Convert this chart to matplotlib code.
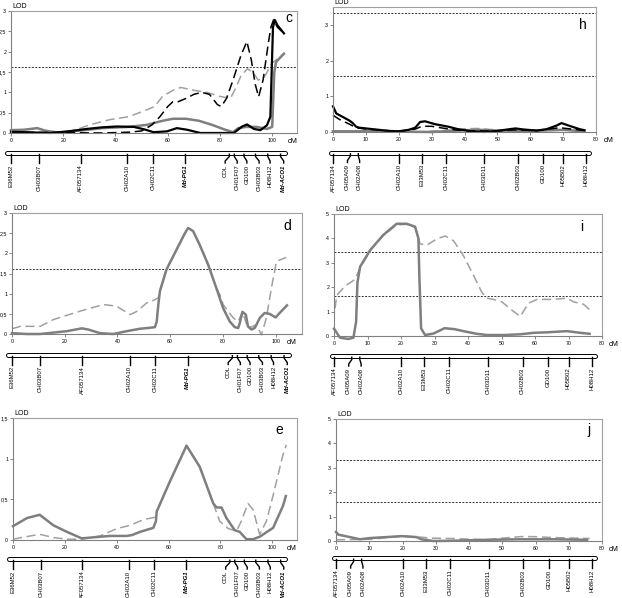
import matplotlib.pyplot as plt

plt.rcParams['font.family'] = ['Liberation Sans', 'DejaVu Sans']

W, H = 622, 598

# ---- linkage maps (cM position on bar, position of the label) ----
map1_names = ["E36M52", "CH03B07", "AF057134", "CH02A10", "CH02C11", "Md-PG1",
              "COL", "CH01F07", "GD100", "CH03B03", "H08H12", "Md-ACO1"]
map1_pos = [0, 10.8, 26.7, 44.6, 54.3, 66.7, 83.6, 85.5, 89.2, 93.6, 98.3, 103.2]
map1_lab = [0, 10.8, 26.7, 44.6, 54.3, 66.7, 82.0, 86.6, 90.3, 95.0, 99.2, 104.4]
map1_bold = ["Md-PG1", "Md-ACO1"]

map2_names = ["AF057134", "CH05A09", "CH02A08", "CH02A10", "E33M53", "CH02C11",
              "CH03D11", "CH02B03", "GD100", "H05B02", "H08H12"]
map2_pos = [0, 5.3, 7.7, 20.1, 27, 34.3, 45.9, 56.3, 64, 70, 77]
map2_lab = [0, 4.4, 8.1, 20.1, 27, 34.3, 45.9, 56.3, 64, 70, 77]

# ---- panel c ----
c_bs_x = [0, 5, 10, 15, 22, 29, 35, 40.5, 47, 51, 54.6, 59.7, 63.5, 67.4, 72.5, 80, 85.3,
          88.5, 90.4, 93, 95.5, 98, 99.3, 99.8, 100.3, 101, 102, 104.5]
c_bs_y = [0.03, 0.02, 0.01, 0.0, 0.04, 0.1, 0.14, 0.16, 0.15, 0.09, 0.02, 0.04, 0.12, 0.08,
          0.0, 0.0, 0.0, 0.16, 0.21, 0.1, 0.07, 0.19, 0.4, 1.5, 2.6, 2.78, 2.65, 2.45]
c_bd_x = [0, 20, 35, 45, 50, 54, 57, 60, 62, 64, 67, 70, 73, 76, 79, 80.5, 82.5, 85, 88,
          90.3, 92, 93.5, 94.8, 96.5, 98.5, 99.5, 100.5, 102, 104.5]
c_bd_y = [0.02, 0.01, 0.0, 0.02, 0.05, 0.2, 0.4, 0.65, 0.77, 0.77, 0.85, 0.95, 1.0, 0.95,
          0.7, 0.65, 0.85, 1.3, 1.9, 2.25, 1.8, 1.2, 0.89, 1.3, 2.2, 2.6, 2.78, 2.6, 2.45]
c_gs_x = [0, 5, 10, 13, 18, 25, 35, 45, 52, 58, 62, 67, 72, 77, 82, 85, 87, 90, 94, 98,
          100, 100.8, 101.5, 104.5]
c_gs_y = [0.07, 0.08, 0.12, 0.06, 0.01, 0.05, 0.12, 0.15, 0.2, 0.3, 0.35, 0.35, 0.3, 0.2,
          0.08, 0.02, 0.12, 0.15, 0.15, 0.1, 0.15, 1.5, 1.75, 1.95]
c_gd_x = [0, 10, 18, 25, 30, 38, 45, 50, 55, 58, 62, 65, 70, 75, 80, 84, 86, 88, 90.5,
          92.5, 94.7, 97, 100, 104.5]
c_gd_y = [0.03, 0.0, 0.0, 0.08, 0.2, 0.33, 0.4, 0.52, 0.65, 0.9, 1.05, 1.12, 1.05, 1.0,
          0.9, 0.85, 1.1, 1.4, 1.58, 1.5, 1.3, 1.38, 1.72, 1.95]

# ---- panel h ----
h_bs_x = [0, 1, 3, 5, 6, 7, 8, 12, 17, 20, 23, 25, 26.5, 28, 31, 35, 38, 42, 46, 50, 53,
          55.5, 58, 62, 65, 68, 69.5, 72, 75, 76.5]
h_bs_y = [0.72, 0.52, 0.42, 0.32, 0.25, 0.15, 0.12, 0.08, 0.03, 0.02, 0.06, 0.12, 0.28,
          0.3, 0.22, 0.15, 0.08, 0.02, 0.0, 0.03, 0.07, 0.1, 0.07, 0.04, 0.08, 0.18, 0.25,
          0.17, 0.08, 0.05]
h_bd_x = [0, 2, 5, 7, 10, 20, 25, 27, 30, 34, 38, 42, 50, 55, 62, 69, 76.5]
h_bd_y = [0.47, 0.35, 0.22, 0.12, 0.08, 0.02, 0.08, 0.16, 0.16, 0.1, 0.05, 0.03, 0.03,
          0.06, 0.04, 0.12, 0.04]
h_gs_x = [0, 10, 20, 30, 40, 45, 50, 60, 70, 76.5]
h_gs_y = [0.02, 0.02, 0.01, 0.0, 0.05, 0.06, 0.04, 0.03, 0.06, 0.02]
h_gd_x = [0, 10, 25, 35, 40, 44, 48, 55, 62, 70, 76.5]
h_gd_y = [0.0, 0.0, 0.0, 0.05, 0.09, 0.1, 0.07, 0.04, 0.05, 0.06, 0.03]

# ---- panel d ----
d_gs_x = [0, 5.7, 10.7, 20.8, 26.5, 29, 33.4, 38.5, 43.5, 48.5, 51.7, 54.2, 54.9, 55.5,
          56.1, 58.6, 62.4, 65.6, 66.8, 68.7, 71.2, 74.4, 77.5, 80.1, 82.6, 84.5, 85.8,
          86.4, 87.4, 88.7, 89.5, 90.8, 92.1, 94, 95.8, 97.7, 100, 101.5, 104.3]
d_gs_y = [0.02, 0.0, 0.0, 0.07, 0.14, 0.11, 0.02, 0.0, 0.07, 0.13, 0.15, 0.17, 0.31, 0.73,
          1.06, 1.6, 2.09, 2.5, 2.63, 2.55, 2.21, 1.72, 1.14, 0.64, 0.31, 0.17, 0.15, 0.27,
          0.55, 0.48, 0.19, 0.11, 0.15, 0.4, 0.52, 0.5, 0.41, 0.52, 0.71]
d_gd_x = [0, 3.2, 10.7, 15.8, 26.5, 34.7, 39.7, 44.8, 47.3, 51.1, 54.2, 55.5, 56.1, 58.6,
          62.4, 65.6, 66.8, 68.7, 71.2, 74.4, 77.5, 78.8, 80.1, 83.9, 85.8, 87.4, 89.5,
          91.4, 92.7, 94.6, 96.5, 98.4, 100.3, 104]
d_gd_y = [0.13, 0.19, 0.19, 0.36, 0.58, 0.73, 0.69, 0.48, 0.56, 0.77, 0.85, 0.9, 1.06,
          1.6, 2.09, 2.5, 2.63, 2.55, 2.21, 1.72, 1.14, 0.98, 0.73, 0.4, 0.31, 0.55, 0.15,
          0.19, 0.23, -0.02, 0.4, 1.14, 1.8, 1.9]

# ---- panel i ----
i_gs_x = [0, 1.8, 4.3, 5.8, 6.6, 7.0, 7.8, 10.8, 14.7, 18.7, 21.7, 24.2, 25.2, 25.5, 26,
          27.2, 29.7, 33, 36, 38.6, 42.6, 45.6, 50.6, 55.6, 59.6, 63.5, 69.5, 73.5, 76.3]
i_gs_y = [0.3, -0.07, -0.12, -0.07, 0.59, 2.2, 2.84, 3.52, 4.14, 4.6, 4.6, 4.48, 4.0,
          2.36, 0.31, 0.04, 0.1, 0.32, 0.28, 0.2, 0.09, 0.04, 0.04, 0.07, 0.13, 0.15, 0.2,
          0.13, 0.09]
i_gd_x = [0.3, 0.8, 3.3, 6.3, 7.8, 10.8, 14.7, 18.7, 21.7, 24.2, 25.7, 27.7, 30.7, 33.2,
          35.7, 38.6, 41.6, 44.1, 45.6, 47.6, 50.1, 53.1, 55.6, 58.1, 60.6, 65.5, 69.5,
          71.5, 74.5, 76.3]
i_gd_y = [1.13, 1.66, 2.05, 2.32, 2.8, 3.5, 4.12, 4.55, 4.58, 4.45, 3.78, 3.72, 3.98,
          4.1, 3.9, 3.3, 2.5, 1.8, 1.55, 1.5, 1.4, 1.06, 0.8, 1.35, 1.5, 1.5, 1.55, 1.4,
          1.3, 1.08]

# ---- panel e ----
e_gs_x = [0, 5.4, 10.3, 15.6, 20.8, 26.5, 33.6, 37.4, 43.8, 45.8, 49, 54.1, 55.1, 55.4,
          60.5, 66.9, 72, 77.2, 78.5, 80.4, 82.3, 85.5, 87.4, 90, 92.6, 95.1, 100.3, 104.1,
          105.2]
e_gs_y = [0.17, 0.27, 0.31, 0.18, 0.1, 0.02, 0.04, 0.05, 0.05, 0.06, 0.1, 0.15, 0.23,
          0.35, 0.72, 1.16, 0.9, 0.45, 0.4, 0.4, 0.27, 0.12, 0.1, 0.01, 0.01, 0.04, 0.15,
          0.42, 0.54]
e_gd_x = [0, 6.7, 10.3, 15.6, 20.8, 26.5, 33.6, 40, 45.1, 50.3, 54.7, 55.4, 60.5, 66.9,
          72, 77.2, 79.7, 83, 86.2, 88, 90.6, 92.6, 95.1, 97.7, 100.3, 104.1, 105.4]
e_gd_y = [0.01, 0.05, 0.07, 0.03, 0.01, 0.01, 0.05, 0.14, 0.18, 0.25, 0.28, 0.35, 0.72,
          1.16, 0.9, 0.45, 0.23, 0.14, 0.11, 0.23, 0.45, 0.37, 0.07, 0.23, 0.55, 1.05, 1.17]

# ---- panel j ----
j_gs_x = [0, 0.7, 4.2, 7.2, 10.2, 15.2, 19.7, 24.2, 25.7, 29.3, 35, 45.4, 55.4, 65.5, 75.5]
j_gs_y = [0.37, 0.26, 0.16, 0.07, 0.12, 0.16, 0.2, 0.16, 0.07, 0.0, 0.01, 0.05, 0.07,
          0.07, 0.05]
j_gd_x = [0, 10.2, 20.3, 25.3, 28.3, 35.3, 41.4, 45.4, 50.4, 55.4, 59.4, 65.5, 71.5, 76.3]
j_gd_y = [0.05, 0.07, 0.2, 0.16, 0.12, 0.1, 0.07, 0.05, 0.12, 0.18, 0.18, 0.14, 0.12, 0.1]

fig = plt.figure(figsize=(W / 100, H / 100), dpi=100)


def px_axes(l, t, r, b):
    return fig.add_axes([l / W, 1 - b / H, (r - l) / W, (b - t) / H])


def lod_panel(box, xmax, ymax, yticks, ylabels, xticks, thresholds, letter, letter_xy, cm_x):
    ax = px_axes(*box)
    ax.set_xlim(0, xmax)
    ax.set_ylim(0, ymax)
    ax.set_yticks(yticks)
    ax.set_yticklabels(ylabels)
    ax.set_xticks(xticks)
    ax.tick_params(labelsize=3.8, length=2, width=0.5, pad=1.5, color='#555555')
    for s in ax.spines.values():
        s.set_color('#a0a0a0')
        s.set_linewidth(0.8)
    ax.spines['left'].set_color('#808080')
    ax.spines['bottom'].set_color('#808080')
    for t in thresholds:
        ax.axhline(t, color='#333333', lw=0.7, dashes=(2, 1.5))
    ax.annotate('LOD', xy=(0, 1), xycoords='axes fraction', xytext=(1, 1),
                textcoords='offset points', ha='left', va='bottom', fontsize=5)
    ax.annotate('cM', xy=(cm_x, 0), xycoords=('data', 'axes fraction'), xytext=(0, -6),
                textcoords='offset points', ha='center', va='center', fontsize=5.3,
                annotation_clip=False)
    fig.text(letter_xy[0] / W, 1 - letter_xy[1] / H, letter, ha='center', va='center',
             fontsize=10)
    return ax


def map_panel(box, xmax, pos, lab, names, span, bold=()):
    l, t, r = box
    m = px_axes(l, t, r, t + 45)
    m.set_xlim(0, xmax)
    m.set_ylim(45, 0)
    m.axis('off')
    m.plot(span, [5, 5], color='black', lw=3.6, solid_capstyle='round', clip_on=False)
    m.plot(span, [5, 5], color='white', lw=2.2, solid_capstyle='round', clip_on=False)
    for p, q, n in zip(pos, lab, names):
        m.plot([p, p, q, q], [6.2, 8.5, 13, 15], color='black', lw=1.0, clip_on=False)
        kw = dict(fontweight='bold', fontstyle='italic') if n in bold else {}
        m.text(q, 16.5, n, rotation=90, ha='center', va='top', fontsize=4.3, **kw)
    return m


def draw(ax, x, y, kind):
    styles = {
        'bs': dict(color='black', lw=1.6),
        'bd': dict(color='black', lw=1.1, dashes=(6, 3)),
        'gs': dict(color='#7f7f7f', lw=1.8),
        'gd': dict(color='#a0a0a0', lw=1.1, dashes=(6, 3)),
    }
    ax.plot(x, y, clip_on=False, solid_joinstyle='round', **styles[kind])


half = [0, 0.5, 1, 1.5, 2, 2.5, 3]
half_lab = ["0", "0,5", "1", "1,5", "2", "2,5", "3"]
five = [0, 1, 2, 3, 4, 5]
five_lab = [str(v) for v in five]

# c
ax = lod_panel((11, 11, 297, 133), 109.5, 3, half, half_lab, range(0, 101, 20), [1.62],
               'c', (289, 18), 108)
draw(ax, c_gd_x, c_gd_y, 'gd')
draw(ax, c_gs_x, c_gs_y, 'gs')
draw(ax, c_bd_x, c_bd_y, 'bd')
draw(ax, c_bs_x, c_bs_y, 'bs')
map_panel((11, 148, 297), 109.5, map1_pos, map1_lab, map1_names, [-1.4, 105], map1_bold)

# h
ax = lod_panel((333, 7, 596, 132), 80, 3.5, [0, 1, 2, 3], ["0", "1", "2", "3"],
               range(0, 81, 10), [3.34, 1.58], 'h', (583, 25), 83.8)
draw(ax, h_gd_x, h_gd_y, 'gd')
draw(ax, h_gs_x, h_gs_y, 'gs')
draw(ax, h_bd_x, h_bd_y, 'bd')
draw(ax, h_bs_x, h_bs_y, 'bs')
map_panel((333, 147.5, 596), 80, map2_pos, map2_lab, map2_names, [-0.5, 78])

# d
ax = lod_panel((12, 213, 302, 334), 110, 3, half, half_lab, range(0, 101, 20), [1.62],
               'd', (287, 226), 106)
draw(ax, d_gd_x, d_gd_y, 'gd')
draw(ax, d_gs_x, d_gs_y, 'gs')
map_panel((12, 349.5, 302), 110, map1_pos, map1_lab, map1_names, [-1.4, 105], map1_bold)

# i
ax = lod_panel((334, 214, 602, 336), 80, 5, five, five_lab, range(0, 81, 10), [3.45, 1.62],
               'i', (582, 227), 83.5)
draw(ax, i_gd_x, i_gd_y, 'gd')
draw(ax, i_gs_x, i_gs_y, 'gs')
map_panel((334, 351, 602), 80, map2_pos, map2_lab, map2_names, [-0.7, 78])

# e
ax = lod_panel((13, 418, 297, 540), 109.5, 1.5, [0, 0.5, 1, 1.5], ["0", "0,5", "1", "1,5"],
               range(0, 101, 20), [], 'e', (279, 430), 107.4)
draw(ax, e_gd_x, e_gd_y, 'gd')
draw(ax, e_gs_x, e_gs_y, 'gs')
map_panel((13, 554, 297), 109.5, map1_pos, map1_lab, map1_names, [-1.4, 105], map1_bold)

# j
ax = lod_panel((336, 419, 602, 541), 80, 5, five, five_lab, range(0, 81, 10), [3.31, 1.61],
               'j', (589, 430), 83.5)
draw(ax, j_gd_x, j_gd_y, 'gd')
draw(ax, j_gs_x, j_gs_y, 'gs')
map_panel((336, 553, 602), 80, map2_pos, map2_lab, map2_names, [-0.7, 78])

fig.savefig('out.png', dpi=100)
